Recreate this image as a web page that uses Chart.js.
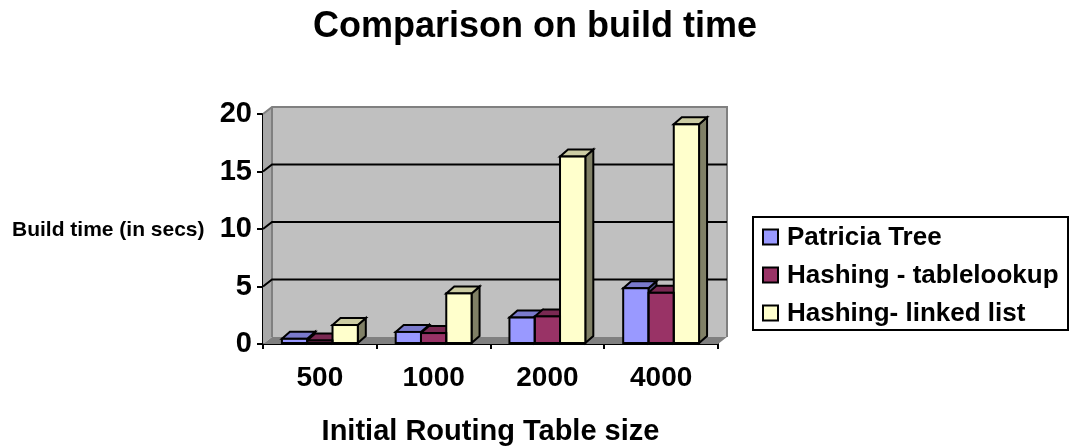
<!DOCTYPE html>
<html>
<head>
<meta charset="utf-8">
<script src="https://cdn.jsdelivr.net/npm/chart.js@4/dist/chart.umd.min.js"></script>
<style>
  html, body { margin: 0; padding: 0; background: #fff; }
  #wrap { width: 1072px; height: 446px; }
</style>
</head>
<body>
<div id="wrap"><canvas id="c" width="1072" height="446"></canvas></div>
<script>
// Build time (seconds) per initial routing table size
const categories = ['500', '1000', '2000', '4000'];
const patriciaTree = [0.45, 1.05, 2.3, 4.85];
const hashingTableLookup = [0.3, 0.95, 2.4, 4.45];
const hashingLinkedList = [1.65, 4.4, 16.3, 19.1];
const seriesNames = ['Patricia Tree', 'Hashing - tablelookup', 'Hashing- linked list'];
const seriesColors = ['#9999FF', '#993366', '#FFFFCC'];
const yMin = 0, yMax = 20, yStep = 5;

const chartTitle = 'Comparison on build time';
const yAxisTitle = 'Build time (in secs)';
const xAxisTitle = 'Initial Routing Table size';

const FONT = "'Liberation Sans', Arial, sans-serif";

// extrusion of the columns and of the walls
const BAR_DX = 8, BAR_DY = 7;
const WALL_DX = 9, WALL_DY = 7;

function shade(hex, f) {
  const n = parseInt(hex.slice(1), 16);
  const r = Math.round(((n >> 16) & 255) * f);
  const g = Math.round(((n >> 8) & 255) * f);
  const b = Math.round((n & 255) * f);
  return `rgb(${r},${g},${b})`;
}

function poly(ctx, pts, fill, stroke, lw) {
  ctx.beginPath();
  ctx.moveTo(pts[0][0], pts[0][1]);
  for (let i = 1; i < pts.length; i++) ctx.lineTo(pts[i][0], pts[i][1]);
  ctx.closePath();
  if (fill) { ctx.fillStyle = fill; ctx.fill(); }
  if (stroke) { ctx.strokeStyle = stroke; ctx.lineWidth = lw || 2; ctx.lineJoin = 'miter'; ctx.stroke(); }
}

function barBox(bar) {
  const p = bar.getProps(['x', 'y', 'base', 'width'], true);
  return { left: p.x - p.width / 2, right: p.x + p.width / 2, top: Math.min(p.y, p.base), base: Math.max(p.y, p.base) };
}

const columns3d = {
  id: 'columns3d',
  beforeDatasetsDraw(chart) {
    const { ctx, chartArea: a, scales: { y } } = chart;
    ctx.save();
    // back wall
    poly(ctx, [[a.left + WALL_DX, a.top - WALL_DY], [a.right + WALL_DX, a.top - WALL_DY],
               [a.right + WALL_DX, a.bottom - WALL_DY], [a.left + WALL_DX, a.bottom - WALL_DY]], '#C0C0C0');
    // side wall
    poly(ctx, [[a.left, a.top], [a.left + WALL_DX, a.top - WALL_DY],
               [a.left + WALL_DX, a.bottom - WALL_DY], [a.left, a.bottom]], '#A8A8A8');
    // floor
    poly(ctx, [[a.left, a.bottom], [a.right, a.bottom],
               [a.right + WALL_DX, a.bottom - WALL_DY], [a.left + WALL_DX, a.bottom - WALL_DY]], '#808080');
    // wall edges
    ctx.strokeStyle = '#808080';
    ctx.lineWidth = 2;
    ctx.beginPath();
    ctx.moveTo(a.left, a.top);
    ctx.lineTo(a.left + WALL_DX, a.top - WALL_DY);
    ctx.lineTo(a.right + WALL_DX, a.top - WALL_DY);
    ctx.lineTo(a.right + WALL_DX, a.bottom - WALL_DY);
    ctx.moveTo(a.left + WALL_DX, a.top - WALL_DY);
    ctx.lineTo(a.left + WALL_DX, a.bottom - WALL_DY);
    ctx.stroke();
    // gridlines on the walls
    ctx.strokeStyle = '#000';
    ctx.lineWidth = 2;
    for (const t of y.ticks) {
      if (t.value <= y.min || t.value >= y.max) continue;
      const py = y.getPixelForValue(t.value);
      ctx.beginPath();
      ctx.moveTo(a.left, py);
      ctx.lineTo(a.left + WALL_DX, py - WALL_DY);
      ctx.lineTo(a.right + WALL_DX, py - WALL_DY);
      ctx.stroke();
    }
    // column sides and tops, left to right
    const metas = chart.getSortedVisibleDatasetMetas();
    const n = chart.data.labels.length;
    for (let i = 0; i < n; i++) {
      for (const meta of metas) {
        const bar = meta.data[i];
        if (!bar) continue;
        const b = barBox(bar);
        const col = chart.data.datasets[meta.index].backgroundColor;
        poly(ctx, [[b.right, b.top], [b.right + BAR_DX, b.top - BAR_DY],
                   [b.right + BAR_DX, b.base - BAR_DY], [b.right, b.base]], shade(col, 0.5), '#000', 2);
        poly(ctx, [[b.left, b.top], [b.right, b.top],
                   [b.right + BAR_DX, b.top - BAR_DY], [b.left + BAR_DX, b.top - BAR_DY]], shade(col, 0.8), '#000', 2);
      }
    }
    ctx.restore();
  },
  afterDatasetsDraw(chart) {
    const { ctx } = chart;
    ctx.save();
    ctx.strokeStyle = '#000';
    ctx.lineWidth = 2;
    for (const meta of chart.getSortedVisibleDatasetMetas()) {
      for (const bar of meta.data) {
        const b = barBox(bar);
        ctx.strokeRect(b.left, b.top, b.right - b.left, b.base - b.top);
      }
    }
    ctx.restore();
  },
  afterDraw(chart) {
    const { ctx } = chart;
    ctx.save();
    ctx.fillStyle = '#000';
    ctx.textBaseline = 'middle';
    // chart title
    ctx.font = `bold 36px ${FONT}`;
    ctx.textAlign = 'center';
    ctx.fillText(chartTitle, 535, 27);
    // value axis title
    ctx.font = `bold 21px ${FONT}`;
    ctx.textAlign = 'left';
    ctx.fillText(yAxisTitle, 12, 230);
    // legend
    const L = { x: 753, y: 217, w: 315, h: 113 };
    ctx.strokeStyle = '#000';
    ctx.lineWidth = 2;
    ctx.strokeRect(L.x, L.y, L.w, L.h);
    ctx.font = `bold 26px ${FONT}`;
    chart.data.datasets.forEach((ds, i) => {
      const cy = L.y + 20 + i * 38;
      ctx.fillStyle = ds.backgroundColor;
      ctx.fillRect(L.x + 10, cy - 7.5, 15, 15);
      ctx.lineWidth = 2;
      ctx.strokeRect(L.x + 10, cy - 7.5, 15, 15);
      ctx.fillStyle = '#000';
      ctx.fillText(ds.label, L.x + 34, cy + 1);
    });
    ctx.restore();
  }
};

const seriesData = [patriciaTree, hashingTableLookup, hashingLinkedList];

new Chart(document.getElementById('c'), {
  type: 'bar',
  data: {
    labels: categories,
    datasets: seriesNames.map((name, i) => ({
      label: name,
      data: seriesData[i],
      backgroundColor: seriesColors[i],
      borderWidth: 0,
      categoryPercentage: 0.667,
      barPercentage: 1.0
    }))
  },
  options: {
    responsive: false,
    animation: false,
    events: [],
    layout: { padding: { left: 0, top: 114, right: 354, bottom: 0 }, autoPadding: false },
    plugins: {
      legend: { display: false },
      title: { display: false },
      tooltip: { enabled: false }
    },
    scales: {
      x: {
        grid: { display: true, drawOnChartArea: false, drawTicks: true, tickLength: 5, color: '#000', lineWidth: 2, offset: true },
        border: { display: true, color: '#000', width: 2 },
        ticks: { color: '#000', font: { family: FONT, size: 28, weight: 'bold' }, padding: 12, maxRotation: 0 },
        title: { display: true, text: xAxisTitle, color: '#000', font: { family: FONT, size: 29, weight: 'bold', lineHeight: 1.0 }, padding: { top: 0, bottom: 0 } },
        afterFit(s) { s.height = 102; }
      },
      y: {
        min: yMin, max: yMax,
        grid: { display: true, drawOnChartArea: false, drawTicks: true, tickLength: 6, color: '#000', lineWidth: 2 },
        border: { display: true, color: '#000', width: 2 },
        ticks: { stepSize: yStep, color: '#000', font: { family: FONT, size: 29, weight: 'bold' }, padding: 5 },
        afterFit(s) { s.width = 263; }
      }
    }
  },
  plugins: [columns3d]
});
</script>
</body>
</html>
